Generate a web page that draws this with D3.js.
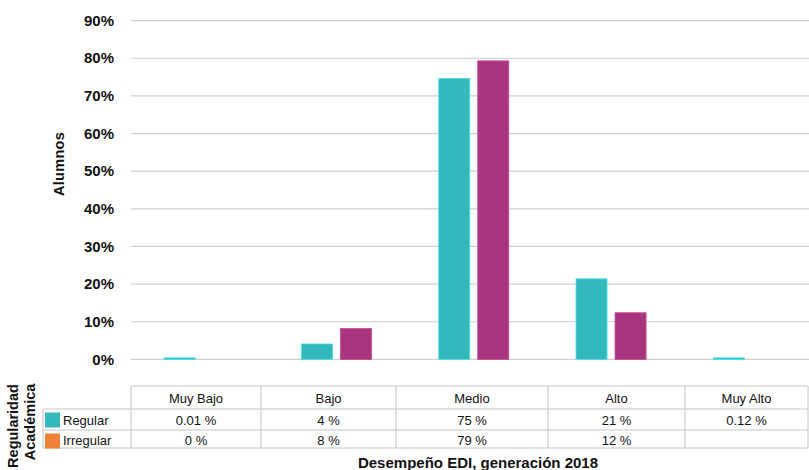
<!DOCTYPE html>
<html>
<head>
<meta charset="utf-8">
<script src="https://cdn.jsdelivr.net/npm/d3@7"></script>
<style>
  html, body { margin: 0; padding: 0; background: #fff; }
  svg { display: block; font-family: "Liberation Sans", Arial, Helvetica, sans-serif; }
</style>
</head>
<body>
<svg id="chart" width="809" height="470"></svg>
<script>
// ---- data ----
const categories = ["Muy Bajo", "Bajo", "Medio", "Alto", "Muy Alto"];
const series = ["Regular", "Irregular"];
const regularValues = [0.01, 4.1, 74.6, 21.4, 0.12];
const irregularValues = [0, 8.2, 79.3, 12.4, null];
const regularLabels = ["0.01 %", "4 %", "75 %", "21 %", "0.12 %"];
const irregularLabels = ["0 %", "8 %", "79 %", "12 %", ""];
const yTicks = [0, 10, 20, 30, 40, 50, 60, 70, 80, 90];
const barColors = ["#33b8bc", "#a8367f"];
const legendColors = ["#33b8bc", "#f0813a"];

// ---- layout ----
const svg = d3.select("#chart");
const plotLeft = 131, plotRight = 809;

const y = d3.scaleLinear().domain([0, 90]).range([359.4, 20.6]);
const x0 = d3.scaleBand().domain(categories).range([130.5, 817]).paddingInner(0).paddingOuter(0);
const x1 = d3.scaleBand().domain(series).range([0, x0.bandwidth()]).paddingInner(0.205).paddingOuter(0.862);

// gridlines
svg.append("g").selectAll("line").data(yTicks).join("line")
  .attr("x1", plotLeft).attr("x2", plotRight)
  .attr("y1", d => y(d)).attr("y2", d => y(d))
  .attr("stroke", "#cfcfcf").attr("stroke-width", 1.2);

// y tick labels
svg.append("g").selectAll("text").data(yTicks).join("text")
  .attr("x", 114).attr("y", d => y(d))
  .attr("dy", "0.35em")
  .attr("text-anchor", "end")
  .attr("font-size", 15).attr("font-weight", "bold").attr("fill", "#111")
  .text(d => d + "%");

// y title
svg.append("text")
  .attr("transform", "translate(64,164) rotate(-90)")
  .attr("text-anchor", "middle")
  .attr("font-size", 14.5).attr("font-weight", "bold").attr("fill", "#111")
  .attr("letter-spacing", 0.3)
  .text("Alumnos");

// bars
const valueSets = [regularValues, irregularValues];
const barData = [];
categories.forEach((c, i) => {
  series.forEach((s, j) => {
    const v = valueSets[j][i];
    if (v != null && v > 0) barData.push({ c, s, v, j });
  });
});
svg.append("g").selectAll("rect").data(barData).join("rect")
  .attr("x", d => x0(d.c) + x1(d.s))
  .attr("width", x1.bandwidth())
  .attr("y", d => Math.min(y(d.v), y(0) - 1.5))
  .attr("height", d => Math.max(y(0) - y(d.v), 1.5))
  .attr("fill", d => barColors[d.j])
  .attr("stroke", d => d3.color(barColors[d.j]).brighter(0.6))
  .attr("stroke-width", 0.8);

// ---- data table ----
const colEdges = [131, 261, 396, 548, 685, 808];
const rowEdges = [386, 409, 430, 448];
const legendLeft = 43;
const tbl = svg.append("g");
const border = "#c4c4c4";

tbl.append("line").attr("x1", colEdges[0]).attr("x2", colEdges[5]).attr("y1", rowEdges[0]).attr("y2", rowEdges[0]).attr("stroke", border);
[1, 2, 3].forEach(r => {
  tbl.append("line").attr("x1", legendLeft).attr("x2", colEdges[5]).attr("y1", rowEdges[r]).attr("y2", rowEdges[r]).attr("stroke", border);
});
tbl.append("line").attr("x1", legendLeft).attr("x2", legendLeft).attr("y1", rowEdges[1]).attr("y2", rowEdges[3]).attr("stroke", border);
colEdges.forEach(cx => {
  tbl.append("line").attr("x1", cx).attr("x2", cx).attr("y1", rowEdges[0]).attr("y2", rowEdges[3]).attr("stroke", border);
});

categories.forEach((c, i) => {
  tbl.append("text")
    .attr("x", (colEdges[i] + colEdges[i + 1]) / 2)
    .attr("y", (rowEdges[0] + rowEdges[1]) / 2 + 1)
    .attr("dy", "0.35em").attr("text-anchor", "middle")
    .attr("font-size", 13).attr("fill", "#111")
    .text(c);
});
const labelSets = [regularLabels, irregularLabels];
series.forEach((s, j) => {
  const top = rowEdges[j + 1], bot = rowEdges[j + 2];
  const mid = (top + bot) / 2;
  tbl.append("rect")
    .attr("x", 45).attr("y", top + 3.5).attr("width", 15).attr("height", 15)
    .attr("fill", legendColors[j]);
  tbl.append("text")
    .attr("x", 63).attr("y", mid + 1).attr("dy", "0.35em")
    .attr("font-size", 13).attr("fill", "#111").text(s);
  labelSets[j].forEach((lab, i) => {
    tbl.append("text")
      .attr("x", (colEdges[i] + colEdges[i + 1]) / 2)
      .attr("y", mid + 1).attr("dy", "0.35em").attr("text-anchor", "middle")
      .attr("font-size", 13).attr("fill", "#111")
      .text(lab);
  });
});

// legend title (rotated, two lines)
svg.append("text")
  .attr("transform", "translate(18,426) rotate(-90)")
  .attr("text-anchor", "middle")
  .attr("font-size", 14.5).attr("font-weight", "bold").attr("fill", "#111")
  .text("Regularidad");
svg.append("text")
  .attr("transform", "translate(35,422) rotate(-90)")
  .attr("text-anchor", "middle")
  .attr("font-size", 14.5).attr("font-weight", "bold").attr("fill", "#111")
  .text("Académica");

// x title
svg.append("text")
  .attr("x", 478).attr("y", 468)
  .attr("text-anchor", "middle")
  .attr("font-size", 15).attr("font-weight", "bold").attr("fill", "#111")
  .text("Desempeño EDI, generación 2018");
</script>
</body>
</html>
